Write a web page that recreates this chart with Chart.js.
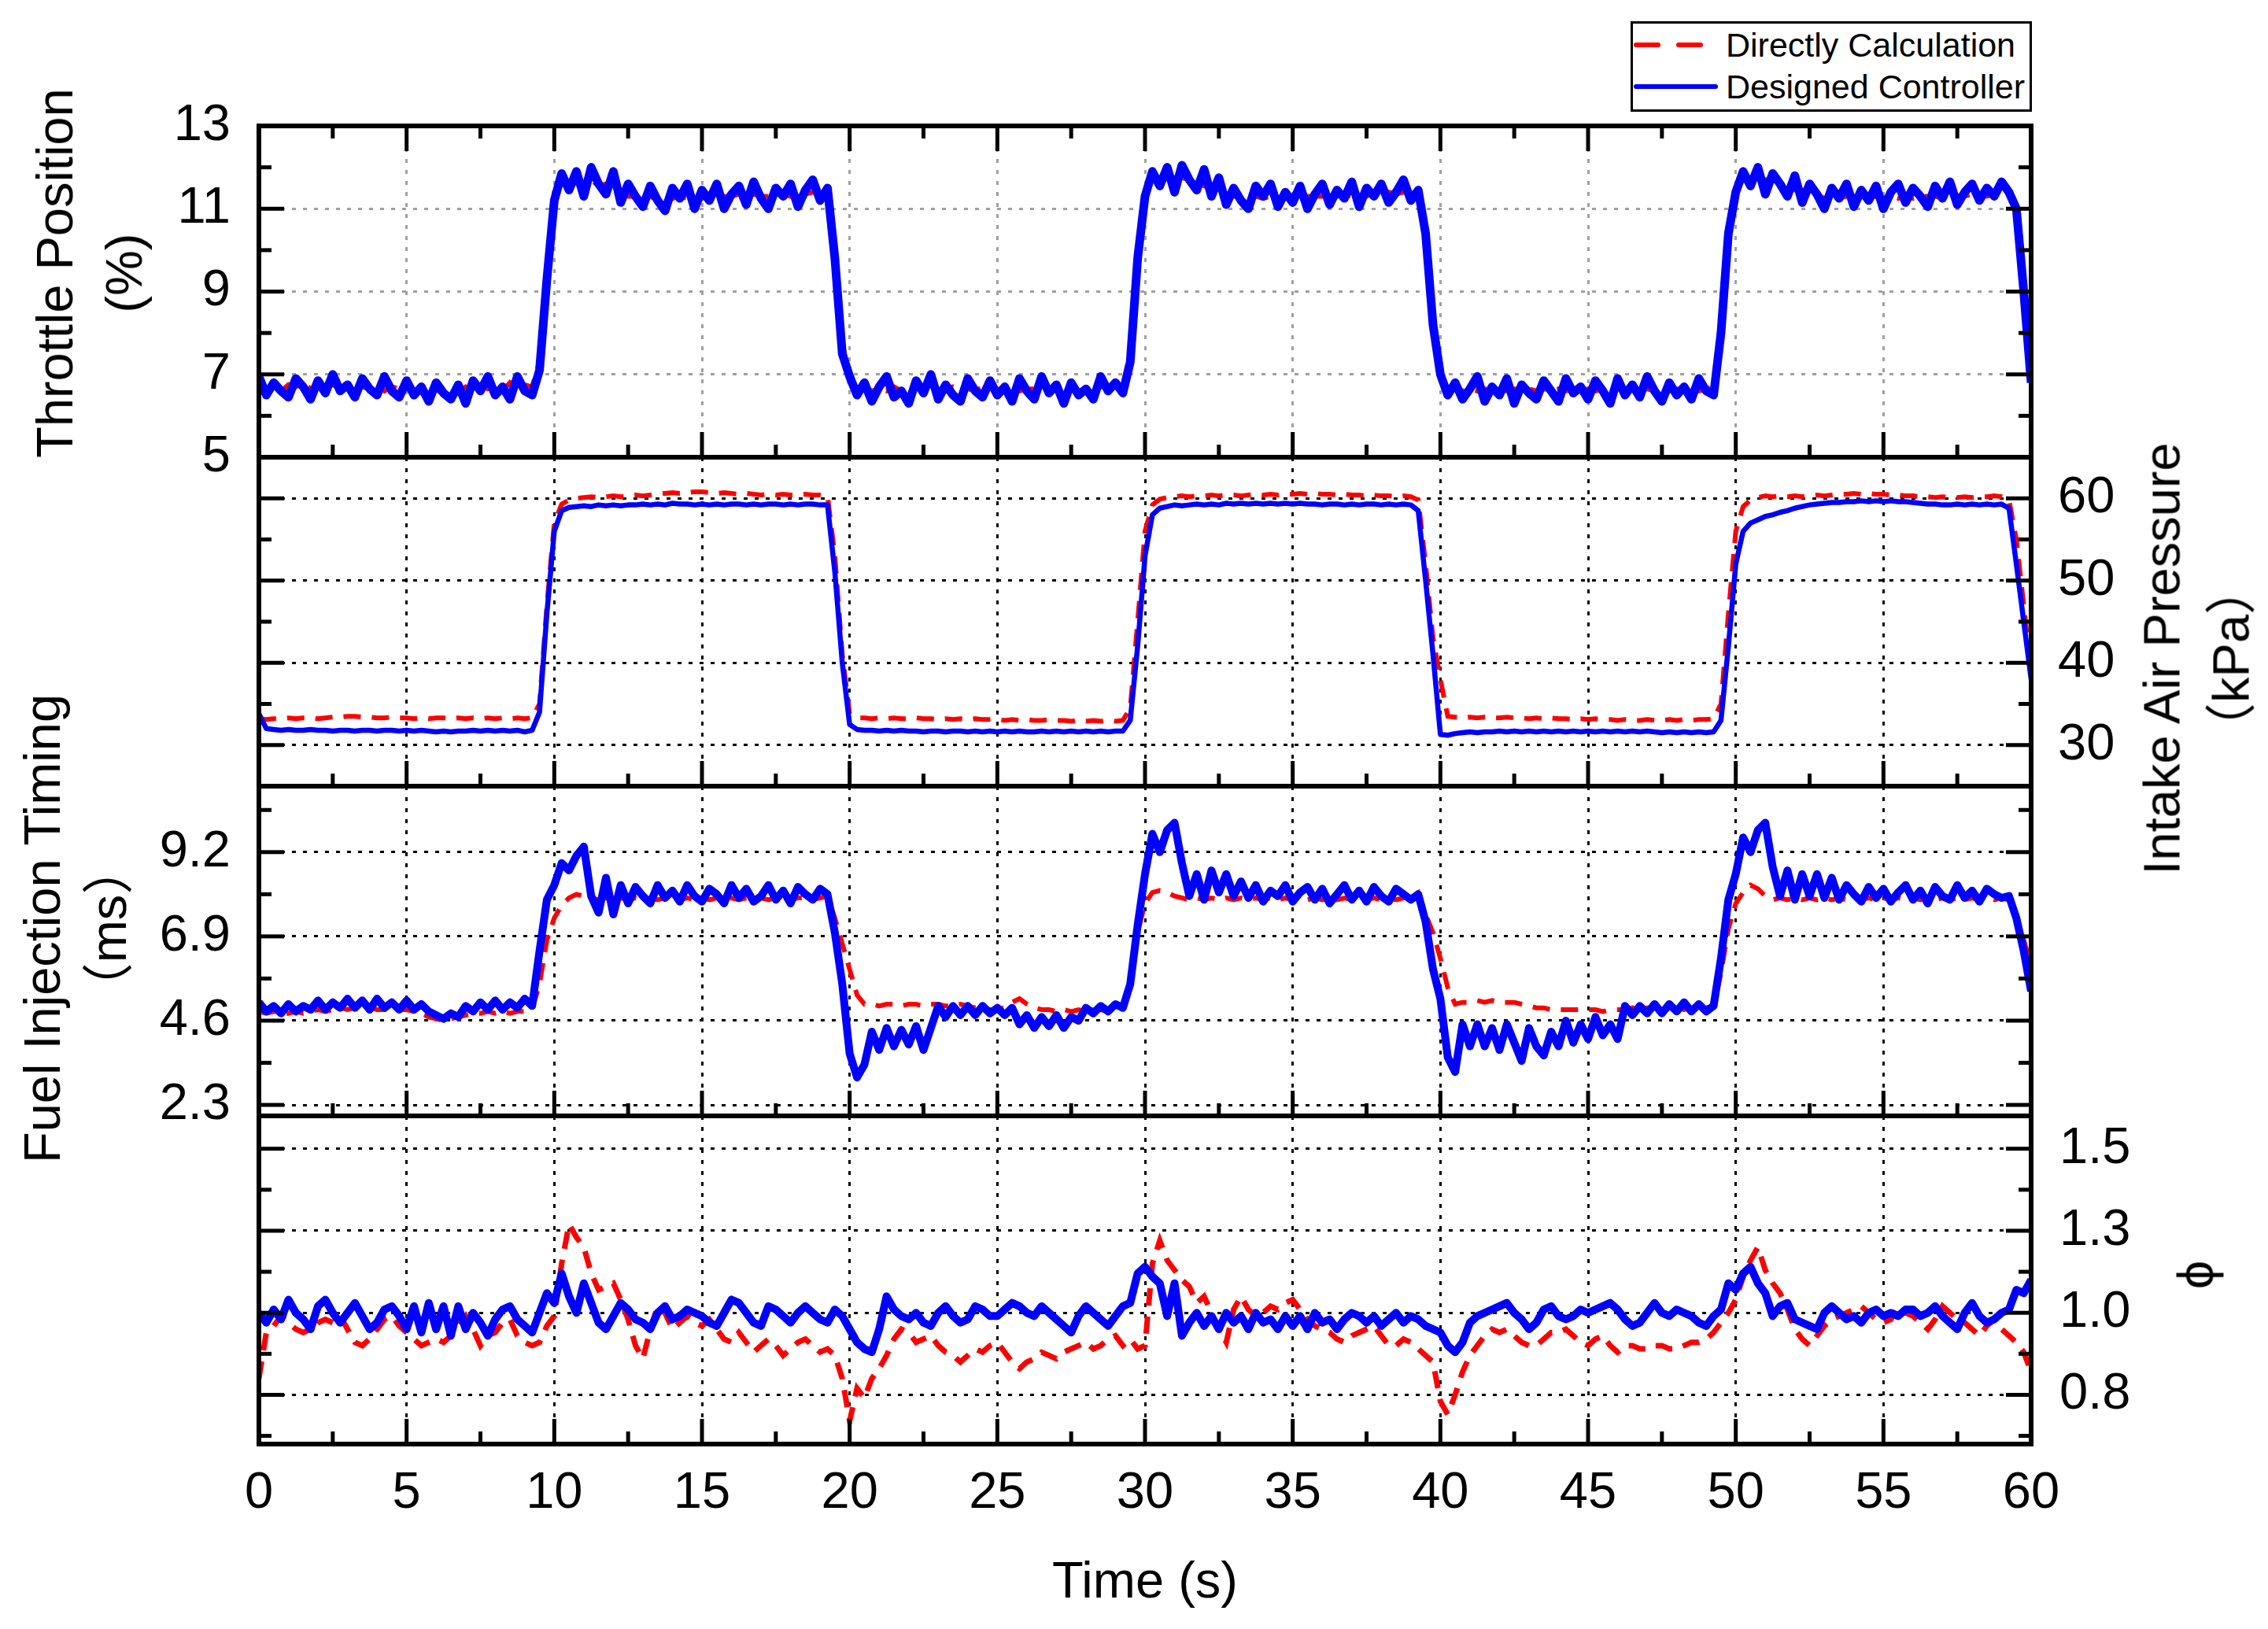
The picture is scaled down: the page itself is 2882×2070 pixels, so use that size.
<!DOCTYPE html>
<html>
<head>
<meta charset="utf-8">
<script src="https://cdn.jsdelivr.net/npm/chart.js@4.4.1/dist/chart.umd.min.js"></script>
<style>
  html, body { margin: 0; padding: 0; background: #fff; }
  #wrap { position: relative; width: 2882px; height: 2070px; background: #fff; color: #000;
          font-family: "Liberation Sans", Arial, "Noto Sans CJK SC", sans-serif; }
  #wrap canvas { position: absolute; left: 0; top: 0; }
  .title { position: absolute; white-space: nowrap; text-align: center; font-size: 65px;
           transform: translate(-50%, -50%) rotate(-90deg); }
  .flat { transform: translate(-50%, -50%); }
  .cjk { font-family: "Noto Sans CJK SC", sans-serif; }
  #legend { position: absolute; left: 2072px; top: 27px; width: 510px; height: 115px;
            box-sizing: border-box; border: 3px solid #000; background: #fff; }
  #legend span { position: absolute; left: 118px; font-size: 43px; line-height: 50px; white-space: nowrap; }
</style>
</head>
<body>
<div id="wrap">
  <canvas id="c1" width="2882" height="2070"></canvas>
  <canvas id="c2" width="2882" height="2070"></canvas>
  <canvas id="c3" width="2882" height="2070"></canvas>
  <canvas id="c4" width="2882" height="2070"></canvas>

  <div class="title" style="left:114px;top:347px;line-height:88px">Throttle Position<br>(%)</div>
  <div class="title" style="left:2791px;top:837px;line-height:83px">Intake Air Pressure<br><span class="cjk">（</span>kPa<span class="cjk">）</span></div>
  <div class="title" style="left:96px;top:1180px;line-height:78px">Fuel Injection Timing<br><span class="cjk">（</span>ms<span class="cjk">）</span></div>
  <div class="title" style="left:2790px;top:1620px">ϕ</div>
  <div class="title flat" style="left:1455px;top:2007px">Time (s)</div>

  <div id="legend">
    <svg width="504" height="109" style="position:absolute;left:0;top:0">
      <line x1="4" y1="27" x2="86" y2="27" stroke="#ff0000" stroke-width="6" stroke-dasharray="28 26" stroke-linecap="round"/>
      <line x1="4" y1="80" x2="105" y2="80" stroke="#0000ff" stroke-width="6" stroke-linecap="round"/>
    </svg>
    <span style="top:2px">Directly Calculation</span>
    <span style="top:55px">Designed Controller</span>
  </div>
</div>

<script>
// sampling step of every series below (s); index i -> t = i * DT, 0..60 s
const DT = 0.25;

const timeTicks = [0, 5, 10, 15, 20, 25, 30, 35, 40, 45, 50, 55, 60];
const thrTicks = [5, 7, 9, 11, 13];
const papTicks = [30, 40, 50, 60];
const fuelTicks = [2.3, 4.6, 6.9, 9.2];
const phiTicks = [0.8, 1.05, 1.3, 1.55];
const phiTickLabels = ['0.8', '1.0', '1.3', '1.5'];

// throttle position (%)
const thrB = [
  6.95,6.5,6.8,6.6,6.45,6.9,6.7,6.4,6.85,6.55,7.0,6.6,6.75,6.45,6.9,6.65,6.5,6.95,6.6,6.45,
  6.85,6.5,6.7,6.35,6.8,6.55,6.4,6.75,6.3,6.85,6.6,6.95,6.5,6.7,6.4,6.95,6.6,6.5,7.1,9.3,
  11.2,11.85,11.45,11.9,11.3,12.0,11.6,11.35,11.9,11.15,11.6,11.3,11.05,11.55,11.2,10.95,11.5,11.25,11.6,11.0,
  11.45,11.2,11.6,11.0,11.35,11.55,11.1,11.65,11.25,11.0,11.5,11.3,11.6,11.05,11.45,11.7,11.2,11.5,9.8,7.5,
  6.95,6.5,6.8,6.35,6.7,6.95,6.45,6.6,6.3,6.85,6.55,7.0,6.4,6.75,6.5,6.35,6.9,6.6,6.45,6.85,
  6.5,6.7,6.35,6.9,6.6,6.4,6.95,6.55,6.75,6.3,6.8,6.5,6.65,6.4,6.95,6.6,6.8,6.55,7.3,9.8,
  11.3,11.9,11.55,12.0,11.4,12.05,11.7,11.45,11.95,11.3,11.75,11.1,11.5,11.2,11.0,11.55,11.3,11.6,11.05,11.4,
  11.15,11.55,11.0,11.35,11.6,11.1,11.45,11.25,11.65,11.05,11.5,11.3,11.6,11.15,11.4,11.7,11.2,11.45,10.4,8.2,
  7.0,6.5,6.8,6.4,6.65,6.95,6.35,6.7,6.5,6.9,6.3,6.75,6.55,6.4,6.85,6.6,6.35,6.9,6.55,6.7,
  6.4,6.85,6.6,6.3,6.9,6.5,6.75,6.45,6.95,6.6,6.35,6.8,6.5,6.7,6.4,6.9,6.6,6.5,8.0,10.4,
  11.4,11.9,11.55,12.0,11.35,11.85,11.6,11.3,11.8,11.15,11.6,11.35,11.0,11.5,11.25,11.6,11.05,11.45,11.2,11.55,
  11.0,11.4,11.6,11.15,11.5,11.3,11.05,11.55,11.25,11.65,11.1,11.4,11.6,11.2,11.5,11.3,11.65,11.4,11.0,9.0,
  6.8
];
const thrR = [
  6.75,6.65,6.7,6.6,6.75,6.7,6.8,6.65,6.7,6.6,6.75,6.65,6.8,6.7,6.7,6.65,6.75,6.6,6.7,6.65,
  6.7,6.6,6.7,6.55,6.65,6.5,6.6,6.55,6.7,6.6,6.75,6.65,6.75,6.6,6.8,6.65,6.75,6.7,7.3,9.5,
  11.4,11.6,11.5,11.65,11.6,11.7,11.55,11.6,11.4,11.4,11.3,11.3,11.25,11.3,11.2,11.3,11.25,11.3,11.25,11.3,
  11.25,11.3,11.25,11.3,11.3,11.35,11.3,11.35,11.3,11.3,11.35,11.35,11.3,11.4,11.35,11.4,11.35,11.4,10.2,7.8,
  6.8,6.65,6.7,6.6,6.65,6.6,6.7,6.6,6.7,6.65,6.7,6.6,6.65,6.6,6.7,6.65,6.65,6.6,6.7,6.65,
  6.65,6.6,6.7,6.6,6.65,6.65,6.7,6.6,6.65,6.65,6.7,6.6,6.65,6.65,6.7,6.7,6.7,6.75,7.5,9.9,
  11.5,11.7,11.7,11.8,11.75,11.75,11.7,11.7,11.55,11.5,11.4,11.35,11.3,11.3,11.25,11.3,11.25,11.3,11.25,11.3,
  11.25,11.3,11.3,11.3,11.3,11.35,11.3,11.35,11.3,11.35,11.3,11.4,11.35,11.4,11.35,11.4,11.35,11.3,10.5,8.4,
  6.9,6.7,6.65,6.6,6.65,6.6,6.65,6.6,6.65,6.6,6.65,6.6,6.65,6.6,6.65,6.6,6.65,6.6,6.65,6.6,
  6.65,6.6,6.65,6.6,6.65,6.6,6.65,6.6,6.65,6.6,6.65,6.6,6.65,6.6,6.65,6.6,6.65,6.7,8.2,10.6,
  11.6,11.7,11.7,11.75,11.7,11.7,11.6,11.6,11.45,11.45,11.35,11.35,11.25,11.3,11.25,11.3,11.25,11.3,11.25,11.3,
  11.25,11.3,11.25,11.3,11.25,11.3,11.3,11.3,11.25,11.3,11.3,11.3,11.35,11.35,11.3,11.35,11.35,11.3,11.0,9.2,
  6.9
];

// intake air pressure (kPa)
const papB = [
  33.8,32.0,31.9,31.8,31.9,31.8,31.8,31.9,31.8,31.8,31.7,31.8,31.8,31.7,31.8,31.8,31.7,31.8,31.8,31.7,
  31.8,31.7,31.8,31.7,31.6,31.7,31.6,31.7,31.7,31.8,31.7,31.8,31.7,31.8,31.7,31.8,31.6,31.8,34.0,46.0,
  56.0,58.5,58.9,59.0,59.1,59.0,59.2,59.1,59.2,59.1,59.2,59.2,59.3,59.2,59.3,59.2,59.4,59.3,59.3,59.2,
  59.3,59.2,59.3,59.2,59.3,59.3,59.2,59.3,59.2,59.3,59.3,59.2,59.3,59.2,59.3,59.3,59.2,59.2,51.0,40.0,
  32.5,31.9,31.8,31.8,31.7,31.8,31.7,31.8,31.7,31.7,31.6,31.7,31.7,31.6,31.7,31.7,31.6,31.7,31.6,31.7,
  31.6,31.7,31.6,31.7,31.6,31.6,31.7,31.6,31.7,31.6,31.7,31.6,31.7,31.6,31.7,31.6,31.7,31.7,33.0,42.0,
  53.0,58.0,58.8,59.0,59.2,59.1,59.2,59.3,59.2,59.3,59.2,59.4,59.3,59.4,59.3,59.4,59.3,59.4,59.3,59.4,
  59.3,59.4,59.3,59.3,59.2,59.3,59.3,59.2,59.3,59.2,59.3,59.3,59.2,59.3,59.2,59.3,59.2,58.5,50.0,41.0,
  31.3,31.2,31.4,31.5,31.6,31.5,31.6,31.6,31.7,31.6,31.7,31.6,31.7,31.6,31.7,31.6,31.7,31.6,31.7,31.6,
  31.7,31.6,31.7,31.6,31.7,31.6,31.7,31.6,31.7,31.6,31.5,31.6,31.5,31.6,31.5,31.6,31.5,31.6,33.0,42.0,
  52.0,56.0,57.0,57.4,57.8,58.0,58.3,58.5,58.8,59.0,59.2,59.3,59.4,59.5,59.5,59.6,59.6,59.7,59.6,59.7,
  59.6,59.7,59.6,59.6,59.5,59.4,59.3,59.3,59.2,59.2,59.3,59.2,59.3,59.2,59.3,59.2,59.3,58.8,52.0,45.0,
  38.0
];
const papR = [
  33.2,33.1,33.2,33.2,33.3,33.2,33.3,33.3,33.2,33.3,33.4,33.4,33.5,33.5,33.4,33.4,33.3,33.3,33.4,33.3,
  33.3,33.2,33.3,33.2,33.3,33.3,33.2,33.3,33.2,33.3,33.2,33.3,33.2,33.3,33.2,33.3,33.2,33.3,35.0,47.0,
  57.0,59.3,59.8,60.0,60.1,60.2,60.1,60.2,60.3,60.2,60.3,60.4,60.3,60.4,60.5,60.6,60.7,60.6,60.7,60.8,
  60.8,60.7,60.6,60.7,60.6,60.5,60.6,60.5,60.4,60.5,60.4,60.5,60.4,60.4,60.5,60.4,60.4,60.3,53.0,41.0,
  33.8,33.3,33.3,33.2,33.3,33.2,33.3,33.2,33.2,33.3,33.2,33.2,33.1,33.2,33.1,33.2,33.1,33.2,33.1,33.1,
  33.1,33.0,33.1,33.0,33.1,33.0,33.0,33.1,33.0,33.0,32.9,33.0,32.9,33.0,32.9,33.0,32.9,33.0,34.5,45.0,
  56.0,59.2,59.9,60.1,60.2,60.3,60.2,60.3,60.3,60.4,60.3,60.4,60.4,60.3,60.4,60.5,60.4,60.5,60.4,60.5,
  60.5,60.6,60.5,60.6,60.5,60.5,60.4,60.5,60.4,60.4,60.3,60.4,60.3,60.3,60.2,60.3,60.2,59.8,52.0,43.0,
  38.0,33.5,33.4,33.3,33.4,33.3,33.4,33.3,33.3,33.4,33.3,33.3,33.2,33.3,33.2,33.3,33.2,33.2,33.1,33.2,
  33.1,33.2,33.1,33.1,33.0,33.1,33.0,33.0,33.1,33.0,33.0,33.1,33.0,33.1,33.0,33.1,33.1,33.2,35.0,46.0,
  56.0,59.0,59.8,60.1,60.3,60.2,60.3,60.2,60.3,60.2,60.3,60.4,60.3,60.4,60.5,60.5,60.6,60.5,60.6,60.5,
  60.5,60.4,60.4,60.3,60.3,60.2,60.2,60.1,60.2,60.1,60.1,60.2,60.1,60.2,60.2,60.3,60.2,59.8,55.0,47.0,
  39.0
];

// fuel injection timing (ms)
const fuelB = [
  5.1,4.85,5.0,4.8,5.05,4.85,5.0,4.9,5.15,4.9,5.1,4.95,5.2,4.95,5.15,4.9,5.2,4.95,5.1,4.9,
  5.15,4.9,5.05,4.85,4.75,4.65,4.8,4.7,5.0,4.85,5.1,4.9,5.15,4.9,5.1,4.95,5.2,5.0,6.5,7.9,
  8.3,8.9,8.7,9.1,9.35,8.0,7.55,8.5,7.5,8.3,7.8,8.25,8.0,7.8,8.3,7.95,8.15,7.85,8.3,8.0,
  7.85,8.2,8.05,7.8,8.3,7.95,8.2,7.85,8.0,8.3,7.9,8.15,7.8,8.25,8.05,7.9,8.2,8.05,7.0,5.6,
  3.7,3.05,3.4,4.3,3.8,4.4,3.9,4.35,3.95,4.45,3.8,4.4,5.0,4.7,5.0,4.75,5.0,4.75,5.0,4.8,
  4.95,4.75,4.95,4.5,4.75,4.4,4.7,4.45,4.75,4.4,4.7,4.6,4.95,4.8,5.0,4.85,5.05,4.95,5.6,7.2,
  8.6,9.7,9.2,9.8,10.0,8.9,8.0,8.6,7.9,8.7,8.1,8.6,8.0,8.4,7.95,8.3,7.85,8.15,8.0,8.3,
  7.85,8.1,8.25,7.9,8.2,7.8,8.05,8.3,7.9,8.15,7.85,8.25,8.0,7.85,8.2,8.05,7.9,8.05,7.3,6.0,
  5.2,3.6,3.2,4.5,3.9,4.5,3.9,4.4,3.8,4.5,4.0,3.5,4.4,3.9,3.65,4.3,3.9,4.6,4.0,4.5,
  4.1,4.7,4.2,4.5,4.1,5.0,4.75,5.0,4.8,5.05,4.8,5.05,4.85,5.1,4.85,5.05,4.85,5.0,6.3,7.9,
  8.6,9.6,9.2,9.8,10.0,8.8,8.0,8.7,7.9,8.6,8.0,8.6,7.95,8.5,7.9,8.3,8.05,7.85,8.25,7.95,
  8.2,7.85,8.1,8.3,7.9,8.15,7.8,8.25,8.0,7.9,8.3,7.95,8.15,7.85,8.2,8.05,7.95,8.0,7.4,6.5,
  5.4
];
const fuelR = [
  4.85,4.8,4.85,4.8,4.8,4.85,4.8,4.85,4.9,4.85,4.9,4.95,4.9,4.95,4.9,4.95,4.9,4.9,4.95,4.9,
  4.9,4.85,4.8,4.7,4.65,4.6,4.65,4.7,4.75,4.8,4.8,4.85,4.8,4.85,4.8,4.85,4.85,4.9,5.6,6.8,
  7.4,7.75,7.95,8.05,8.0,7.95,7.9,7.95,7.9,7.95,7.9,7.95,7.9,7.95,7.9,7.95,7.95,7.9,7.95,7.9,
  7.95,7.9,7.95,7.9,7.95,7.9,7.95,7.9,7.95,7.9,7.95,7.95,7.9,7.95,7.95,7.9,7.95,8.0,7.4,6.7,
  6.0,5.3,5.05,5.05,5.0,5.05,5.05,5.0,5.05,5.05,5.0,5.05,5.05,5.0,5.0,5.05,5.0,4.95,4.95,4.9,
  4.9,4.95,5.1,5.2,5.05,4.95,4.9,4.9,4.85,4.9,4.85,4.9,4.85,4.9,4.9,4.85,4.9,4.95,5.7,7.0,
  7.8,8.1,8.15,8.1,8.0,7.95,7.9,7.95,7.9,7.95,7.9,7.95,7.9,7.95,7.9,7.95,7.9,7.95,7.9,7.95,
  7.9,7.95,7.9,7.95,7.9,7.95,7.9,7.95,7.9,7.95,7.9,7.95,7.9,7.95,7.9,7.95,8.0,8.1,7.5,7.0,
  6.3,5.5,5.05,5.1,5.1,5.15,5.1,5.15,5.1,5.1,5.1,5.05,5.0,4.95,4.95,4.9,4.9,4.9,4.9,4.9,
  4.9,4.9,4.85,4.9,4.9,4.9,4.95,4.9,4.95,4.95,4.9,4.95,4.95,4.9,4.95,4.95,4.95,5.0,5.9,7.1,
  7.8,8.1,8.3,8.2,8.0,7.9,7.95,7.9,7.95,7.9,7.95,7.9,7.95,7.9,7.95,7.9,7.95,7.9,7.95,7.9,
  7.95,7.9,7.95,7.9,7.95,7.9,7.95,7.9,7.95,7.9,7.95,7.9,7.95,7.9,7.95,7.9,7.95,7.9,7.4,6.8,
  6.1
];

// equivalence ratio phi
const phiB = [
  1.05,1.02,1.06,1.03,1.09,1.05,1.03,1.0,1.07,1.09,1.05,1.02,1.05,1.08,1.04,1.0,1.02,1.06,1.07,1.04,
  1.0,1.07,0.99,1.08,1.0,1.07,0.98,1.07,1.0,1.05,1.02,0.98,1.03,1.06,1.07,1.03,1.01,0.99,1.05,1.11,
  1.08,1.17,1.1,1.05,1.14,1.08,1.02,1.0,1.04,1.08,1.06,1.03,1.02,1.0,1.05,1.07,1.03,1.04,1.06,1.05,
  1.04,1.02,1.01,1.05,1.09,1.08,1.05,1.02,1.01,1.07,1.06,1.04,1.02,1.05,1.07,1.05,1.03,1.02,1.06,1.04,
  1.0,0.96,0.94,0.93,1.0,1.1,1.06,1.04,1.03,1.05,1.02,1.01,1.05,1.07,1.04,1.02,1.03,1.07,1.06,1.04,
  1.04,1.06,1.08,1.07,1.05,1.04,1.07,1.05,1.03,1.01,0.99,1.04,1.07,1.05,1.03,1.01,1.04,1.07,1.08,1.17,
  1.19,1.16,1.14,1.04,1.14,0.98,1.02,1.05,1.01,1.04,1.0,1.05,1.02,1.04,1.0,1.05,1.02,1.03,1.0,1.04,
  1.01,1.04,1.0,1.05,1.02,1.03,1.0,1.03,1.05,1.04,1.02,1.04,1.01,1.03,1.05,1.02,1.04,1.03,1.01,1.0,
  0.99,0.95,0.93,0.96,1.02,1.04,1.05,1.06,1.07,1.08,1.05,1.03,1.0,1.02,1.06,1.07,1.04,1.03,1.04,1.06,
  1.05,1.06,1.07,1.08,1.06,1.03,1.01,1.02,1.05,1.08,1.05,1.04,1.06,1.05,1.04,1.02,1.01,1.04,1.06,1.14,
  1.12,1.17,1.19,1.14,1.11,1.04,1.07,1.08,1.03,1.02,1.01,1.0,1.05,1.07,1.05,1.03,1.04,1.02,1.05,1.06,
  1.04,1.05,1.04,1.06,1.06,1.04,1.05,1.07,1.04,1.02,1.0,1.05,1.08,1.04,1.02,1.03,1.05,1.06,1.12,1.11,
  1.15
];
const phiR = [
  0.85,0.99,1.01,1.04,1.02,1.0,0.99,1.0,1.02,1.03,1.02,1.04,1.0,0.96,0.95,0.97,1.0,1.03,1.04,1.01,
  0.99,0.97,0.95,0.96,0.97,0.96,0.98,1.01,1.04,1.0,0.95,0.98,0.99,1.02,1.03,0.98,0.96,0.95,0.96,1.01,
  1.04,1.2,1.32,1.28,1.25,1.17,1.12,1.13,1.14,1.09,1.03,0.95,0.91,1.0,1.07,1.05,1.0,1.02,1.04,1.02,
  1.01,1.03,1.0,0.97,0.96,0.99,0.96,0.93,0.95,0.97,0.95,0.92,0.94,0.96,0.97,0.95,0.93,0.94,0.92,0.85,
  0.72,0.82,0.79,0.85,0.88,0.92,0.97,1.0,0.99,0.96,0.97,0.98,0.95,0.93,0.92,0.9,0.92,0.94,0.93,0.95,
  0.96,0.93,0.9,0.88,0.9,0.91,0.93,0.92,0.91,0.93,0.94,0.95,0.96,0.94,0.95,0.97,0.98,0.95,0.97,0.94,
  0.95,1.2,1.27,1.21,1.18,1.15,1.13,1.08,1.1,1.05,1.0,0.96,1.06,1.1,1.06,1.04,1.05,1.07,1.06,1.08,
  1.09,1.06,1.03,1.01,1.0,0.99,0.97,0.96,0.98,0.99,1.0,1.01,0.98,0.95,0.95,0.97,0.96,0.94,0.92,0.9,
  0.78,0.74,0.8,0.87,0.92,0.95,0.98,1.0,0.99,1.0,0.98,0.96,0.95,0.95,0.97,0.99,0.99,1.0,0.98,0.96,
  0.95,0.97,0.98,0.95,0.93,0.95,0.95,0.94,0.94,0.95,0.95,0.94,0.94,0.95,0.96,0.96,0.97,0.99,1.02,1.05,
  1.09,1.16,1.21,1.25,1.18,1.14,1.11,1.06,1.0,0.97,0.95,0.98,1.01,1.03,1.04,1.05,1.06,1.07,1.05,1.03,
  1.02,1.03,1.07,1.05,1.04,1.02,1.0,1.03,1.07,1.05,1.03,1.02,1.0,0.98,1.01,1.03,1.0,0.98,0.96,0.93,
  0.87
];

const FONT = '"Liberation Sans", Arial, sans-serif';
Chart.defaults.font.family = FONT;
Chart.defaults.color = '#000';

const pts = arr => arr.map((v, i) => ({ x: i * DT, y: v }));

// box round each panel plus inward major / minor ticks on all sides
const frame = {
  id: 'frame',
  afterDraw(chart, args, opts) {
    const { ctx, chartArea: a, scales: { x, y } } = chart;
    const line = (x1, y1, x2, y2) => { ctx.beginPath(); ctx.moveTo(x1, y1); ctx.lineTo(x2, y2); ctx.stroke(); };
    ctx.save();
    ctx.strokeStyle = '#000';
    ctx.lineWidth = 5;
    const yt = opts.yTicks, ys = yt[1] - yt[0];
    yt.forEach(v => {
      const p = y.getPixelForValue(v);
      if (p > a.top + 3 && p < a.bottom - 3) { line(a.left, p, a.left + 32, p); line(a.right, p, a.right - 32, p); }
    });
    for (let v = yt[0] - ys / 2; v < y.max - 1e-9; v += ys) {
      if (v <= y.min + 1e-9) continue;
      const p = y.getPixelForValue(v);
      line(a.left, p, a.left + 16, p); line(a.right, p, a.right - 16, p);
    }
    for (let v = 2.5; v < 60; v += 2.5) {
      const p = x.getPixelForValue(v);
      const len = (v % 5 === 0) ? 32 : 16;
      line(p, a.bottom, p, a.bottom - len);
      if (opts.top) line(p, a.top, p, a.top + len);
    }
    ctx.lineWidth = 6;
    ctx.strokeRect(a.left, a.top, a.right - a.left, a.bottom - a.top);
    ctx.restore();
  }
};

function panel(id, o) {
  const left = o.side === 'left';
  const xh = o.showX ? 235 : 0;
  const grid = { color: o.gridColor, lineWidth: 3, drawTicks: false };
  const border = { display: false, dash: o.dash };
  return new Chart(document.getElementById(id), {
    type: 'line',
    data: {
      datasets: [
        { label: 'Designed Controller', data: pts(o.blue), borderColor: '#0000ff', borderWidth: o.blueWidth || 6.5,
          pointRadius: 0, tension: 0, order: 0, borderJoinStyle: 'round' },
        { label: 'Directly Calculation', data: pts(o.red), borderColor: '#ff0000', borderWidth: o.redWidth || 6,
          borderDash: [22, 14], pointRadius: 0, tension: 0, order: 1 }
      ]
    },
    options: {
      responsive: false,
      devicePixelRatio: 1,
      animation: false,
      events: [],
      layout: {
        autoPadding: false,
        padding: { left: left ? 0 : 329, right: left ? 301 : 0, top: o.top, bottom: 2070 - o.bottom - xh }
      },
      plugins: { legend: { display: false }, tooltip: { enabled: false }, frame: { yTicks: o.ticks, top: !!o.topTicks } },
      scales: {
        x: {
          type: 'linear', min: 0, max: 60,
          afterBuildTicks: s => { s.ticks = timeTicks.map(v => ({ value: v })); },
          afterFit: s => { s.height = xh; s.paddingLeft = 0; s.paddingRight = 0; },
          ticks: { display: !!o.showX, padding: 24, autoSkip: false, maxRotation: 0, font: { size: 65 } },
          grid, border
        },
        y: {
          type: 'linear', position: o.side, min: o.min, max: o.max,
          afterBuildTicks: s => { s.ticks = o.ticks.map(v => ({ value: v })); },
          afterFit: s => { s.width = left ? 329 : 301; s.paddingTop = 0; s.paddingBottom = 0; },
          ticks: { padding: o.pad, autoSkip: false, font: { size: 65 },
                   callback: (v, i) => o.labels ? o.labels[i] : String(v) },
          grid, border
        }
      }
    },
    plugins: [frame]
  });
}

panel('c1', { side: 'left', top: 160, bottom: 581, min: 5, max: 13, ticks: thrTicks, pad: 36,
              blue: thrB, red: thrR, gridColor: '#a0a0a0', dash: [5, 9], topTicks: true, blueWidth: 11 });
panel('c2', { side: 'right', top: 581, bottom: 999, min: 25, max: 65, ticks: papTicks, pad: 34,
              blue: papB, red: papR, gridColor: '#000', dash: [5, 9] });
panel('c3', { side: 'left', top: 999, bottom: 1418, min: 2, max: 11, ticks: fuelTicks, pad: 36,
              blue: fuelB, red: fuelR, gridColor: '#000', dash: [5, 9], blueWidth: 10 });
panel('c4', { side: 'right', top: 1418, bottom: 1835, min: 0.65, max: 1.65, ticks: phiTicks, labels: phiTickLabels,
              pad: 36, blue: phiB, red: phiR, gridColor: '#000', dash: [5, 9], showX: true, blueWidth: 10, redWidth: 7 });
</script>
</body>
</html>
